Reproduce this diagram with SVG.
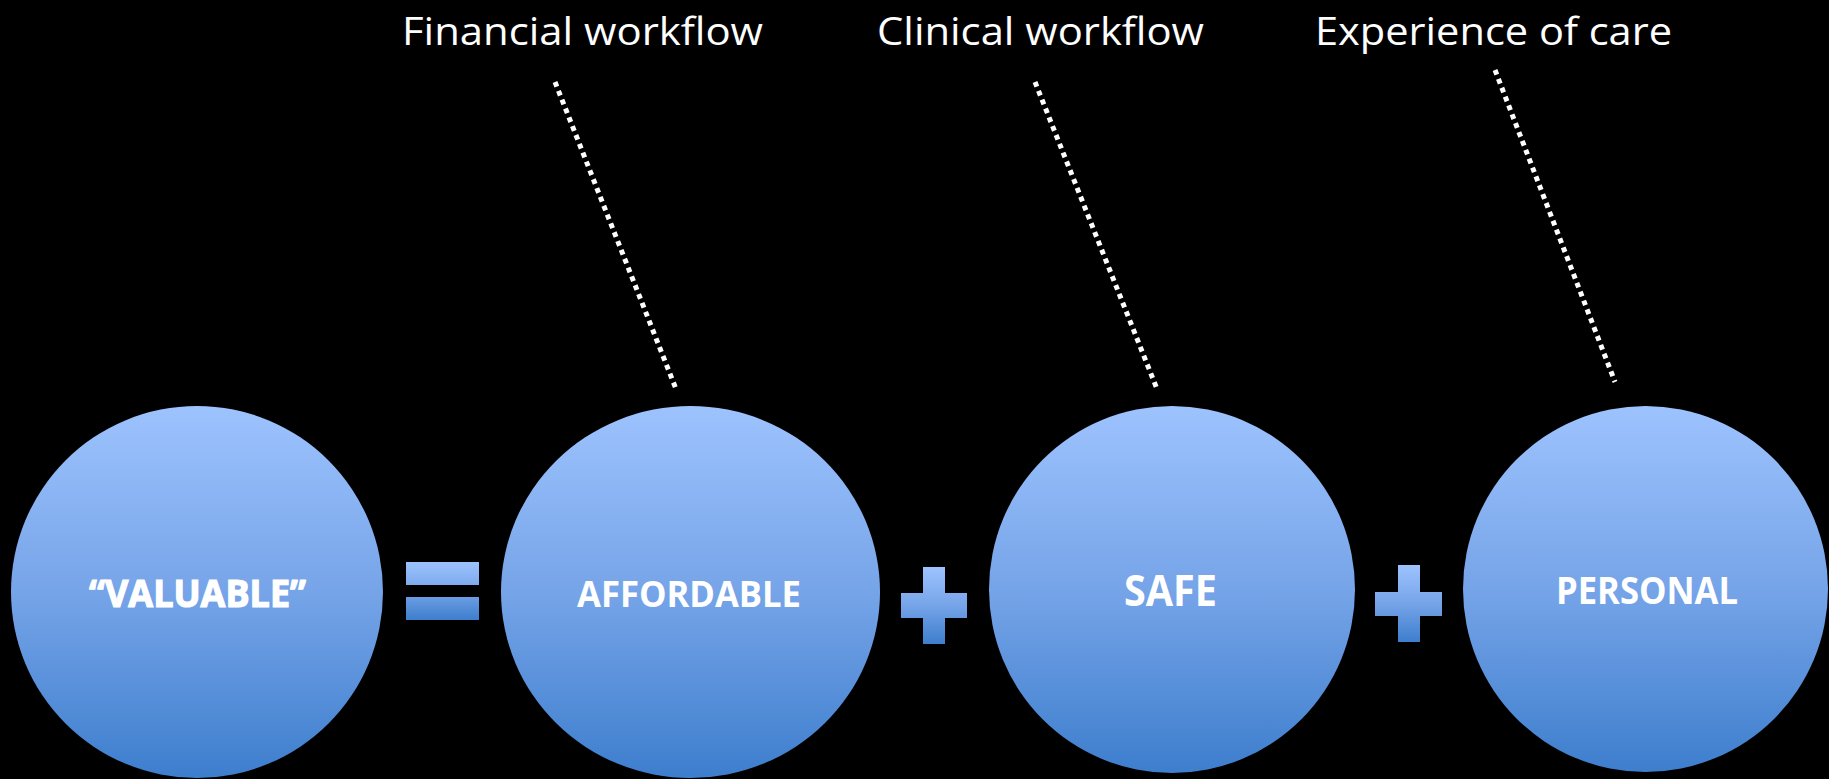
<svg xmlns="http://www.w3.org/2000/svg" width="1829" height="779" viewBox="0 0 1829 779">
<style>
.lbl{font-family:"Open Sans","Noto Sans",sans-serif;font-size:38px;fill:#ffffff}
.ctext{font-family:"Open Sans","Noto Sans",sans-serif;font-weight:bold;fill:#ffffff;text-anchor:middle}
.node{fill:url(#g)}
.op{fill:url(#g)}
.dot{stroke:#ffffff;stroke-width:5;stroke-dasharray:5 4.5;fill:none}
</style>
<defs>
<linearGradient id="g" x1="0" y1="0" x2="0" y2="1">
<stop offset="0" stop-color="#9DC3FE"/>
<stop offset="0.5" stop-color="#76A4E8"/>
<stop offset="1" stop-color="#3D7ECD"/>
</linearGradient>
</defs>
<rect x="0" y="0" width="1829" height="779" fill="#000000"/>
<g id="labels">
<text class="lbl" x="402" y="45" textLength="361" lengthAdjust="spacingAndGlyphs">Financial workflow</text>
<text class="lbl" x="877" y="45" textLength="327" lengthAdjust="spacingAndGlyphs">Clinical workflow</text>
<text class="lbl" x="1315" y="45" textLength="357" lengthAdjust="spacingAndGlyphs">Experience of care</text>
</g>
<g id="connectors">
<line class="dot" x1="555" y1="82" x2="676" y2="389"/>
<line class="dot" x1="1035" y1="82" x2="1157" y2="389"/>
<line class="dot" x1="1495" y1="70" x2="1615" y2="382"/>
</g>
<g id="node-valuable">
<ellipse class="node" cx="197" cy="592" rx="186" ry="186"/>
<text class="ctext" x="197.5" y="607" font-size="37" stroke="#ffffff" stroke-width="1.2" textLength="217" lengthAdjust="spacingAndGlyphs">“VALUABLE”</text>
</g>
<g id="equals">
<path class="op" d="M406 562H479V585H406Z M406 597H479V620H406Z"/>
</g>
<g id="node-affordable">
<ellipse class="node" cx="690.5" cy="592" rx="189.5" ry="186"/>
<text class="ctext" x="689" y="607" font-size="36" textLength="224" lengthAdjust="spacingAndGlyphs">AFFORDABLE</text>
</g>
<g id="plus1">
<path class="op" d="M923 567H945V593H967V618H945V644H923V618H901V593H923Z"/>
</g>
<g id="node-safe">
<ellipse class="node" cx="1172" cy="589.5" rx="183" ry="183.5"/>
<text class="ctext" x="1170.5" y="606" font-size="43" textLength="93" lengthAdjust="spacingAndGlyphs">SAFE</text>
</g>
<g id="plus2">
<path class="op" d="M1398 565H1420V592H1442V616H1420V642H1398V616H1375V592H1398Z"/>
</g>
<g id="node-personal">
<ellipse class="node" cx="1645.5" cy="589" rx="182.5" ry="183"/>
<text class="ctext" x="1647" y="604" font-size="37" textLength="182" lengthAdjust="spacingAndGlyphs">PERSONAL</text>
</g>
</svg>
